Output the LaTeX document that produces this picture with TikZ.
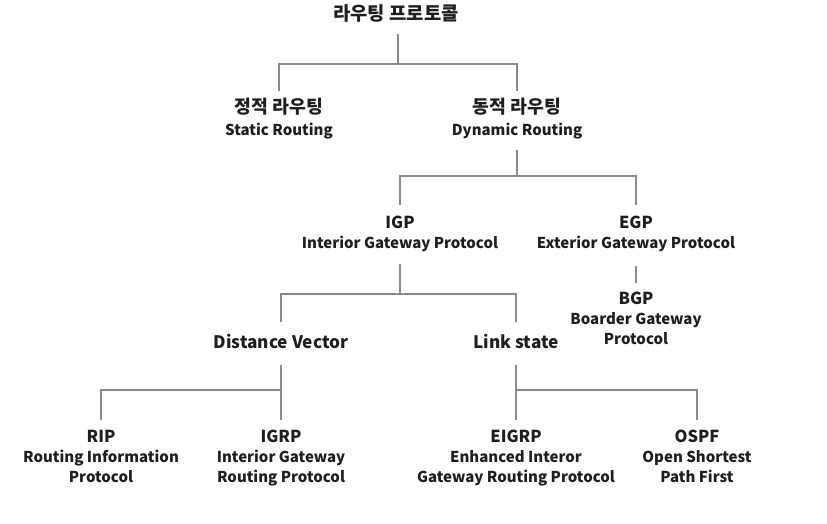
\documentclass[tikz,border=0pt]{standalone}
\usepackage{fontspec}
\setmainfont{Noto Sans CJK KR}
\definecolor{linegray}{HTML}{8A8A8A}
\definecolor{txt}{HTML}{1E1E1E}
\newcommand{\hd}[1]{{\fontsize{16.5}{20}\selectfont #1}}
\newcommand{\sub}[1]{{\fontsize{15}{20}\selectfont #1}}
\begin{document}
\begin{tikzpicture}[x=1pt,y=-1pt,
  conn/.style={draw=linegray,line width=2.4pt},
  lbl/.style={align=center,inner sep=0pt,outer sep=0pt,anchor=north,text=txt,font=\bfseries\fontsize{15}{20}\selectfont},
  kor/.style={font=\bfseries\fontsize{18.3}{22.5}\selectfont},
  big/.style={font=\bfseries\fontsize{17.2}{20}\selectfont}]
\useasboundingbox[fill=white] (0,0) rectangle (827,523);
% nodes
\node[lbl,font=\bfseries\fontsize{18.8}{22}\selectfont] (title) at (396,5) {라우팅 프로토콜};
\node[lbl,kor] (static) at (279,98) {정적 라우팅\\\sub{Static Routing}};
\node[lbl,kor] (dyn) at (517,98) {동적 라우팅\\\sub{Dynamic Routing}};
\node[lbl] (igp) at (400,216) {\hd{IGP}\\Interior Gateway Protocol};
\node[lbl] (egp) at (636,216) {\hd{EGP}\\Exterior Gateway Protocol};
\node[lbl] (bgp) at (636,292) {\hd{BGP}\\Boarder Gateway\\Protocol};
\node[lbl,big] (dv) at (281,334) {Distance Vector};
\node[lbl,big] (ls) at (516,334) {Link state};
\node[lbl] (rip) at (101,430) {\hd{RIP}\\Routing Information\\Protocol};
\node[lbl] (igrp) at (281,430) {\hd{IGRP}\\Interior Gateway\\Routing Protocol};
\node[lbl] (eigrp) at (516,430) {\hd{EIGRP}\\Enhanced Interor\\Gateway Routing Protocol};
\node[lbl] (ospf) at (697,430) {\hd{OSPF}\\Open Shortest\\Path First};
% junctions
\coordinate (j1) at (398,64);
\coordinate (j2) at (517,176);
\coordinate (j3) at (400,294);
\coordinate (j4) at (281,390);
\coordinate (j5) at (516,390);
% connectors
\draw[conn,shorten <=11pt] (title.south -| j1) -- (j1);
\draw[conn,shorten >=7pt] (j1) -| (static.north);
\draw[conn,shorten >=7pt] (j1) -| (dyn.north);
\draw[conn,shorten <=10pt] (dyn.south) -- (j2);
\draw[conn,shorten >=11pt] (j2) -| (igp.north);
\draw[conn,shorten >=11pt] (j2) -| (egp.north);
\draw[conn,shorten <=12pt] (igp.south) -- (j3);
\draw[conn,shorten >=12pt] (j3) -| (dv.north);
\draw[conn,shorten >=12pt] (j3) -| (ls.north);
\draw[conn,shorten <=14pt,shorten >=9pt] (egp.south) -- (bgp.north);
\draw[conn,shorten <=16pt,shorten >=10pt] (dv.south) -- (igrp.north);
\draw[conn,shorten >=10pt] (j4) -| (rip.north);
\draw[conn,shorten <=16pt,shorten >=10pt] (ls.south) -- (eigrp.north);
\draw[conn,shorten >=10pt] (j5) -| (ospf.north);
\end{tikzpicture}
\end{document}
